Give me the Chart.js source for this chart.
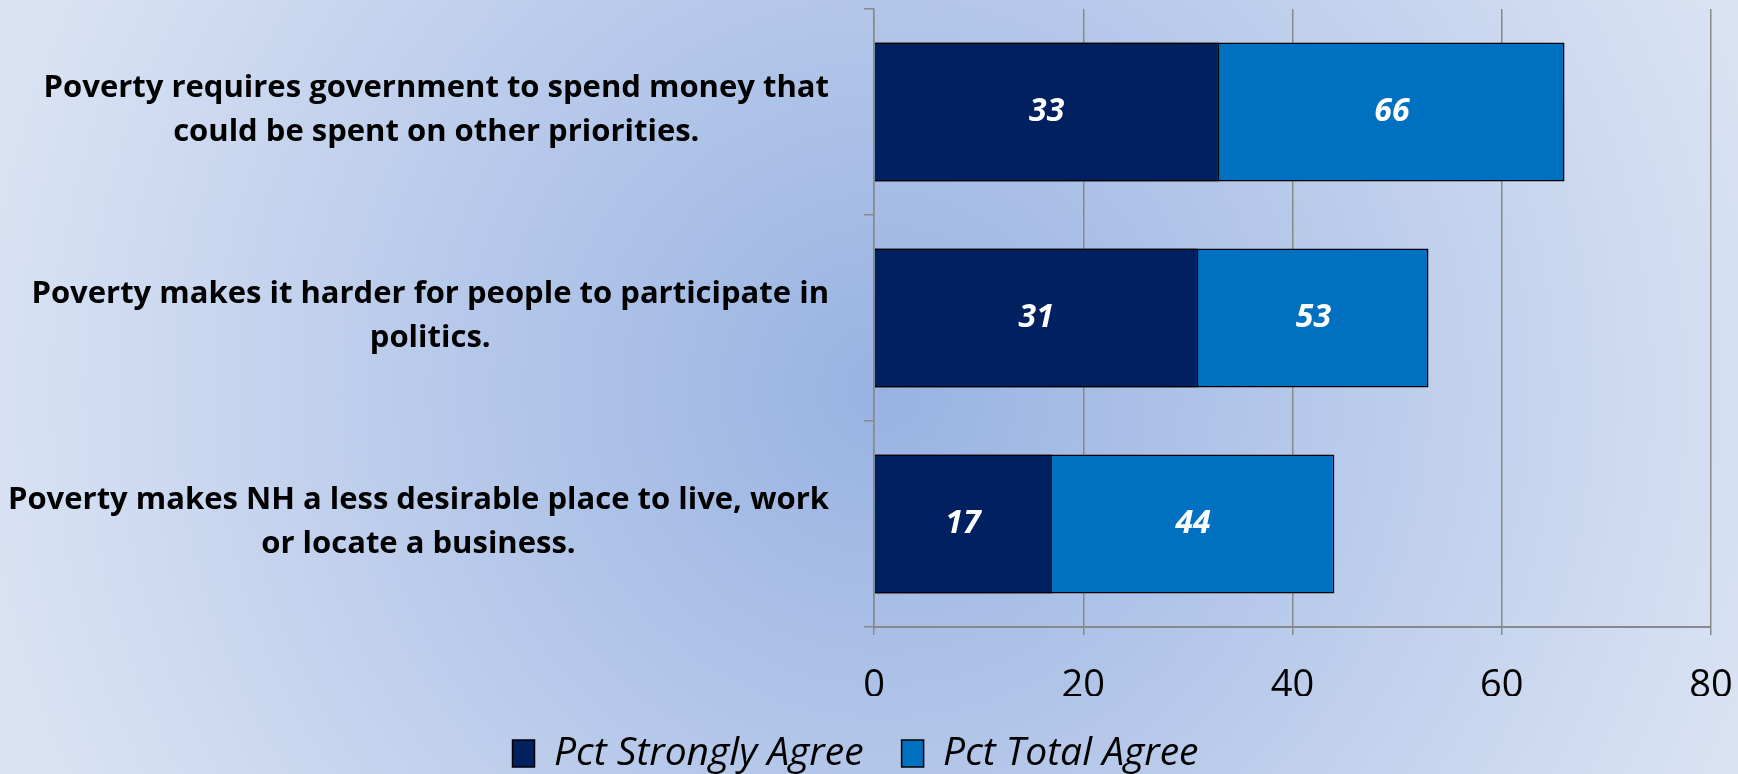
<!DOCTYPE html>
<html>
<head>
<meta charset="utf-8">
<script src="https://cdn.jsdelivr.net/npm/chart.js@4.4.1/dist/chart.umd.min.js"></script>
<style>
  html, body { margin: 0; padding: 0; overflow: hidden; background: #c9d7ef; }
  #wrap { width: 1738px; height: 774px; }
</style>
</head>
<body>
<div id="wrap"><canvas id="c" width="1738" height="774"></canvas></div>
<script>
// Survey statements (drawn as two-line labels)
const statements = [
  ['Poverty requires government to spend money that', 'could be spent on other priorities.'],
  ['Poverty makes it harder for people to participate in', 'politics.'],
  ['Poverty makes NH a less desirable place to live, work', 'or locate a business.']
];
const seriesNames = ['Pct Strongly Agree', 'Pct Total Agree'];
const stronglyAgree = [33, 31, 17];
const totalAgree = [66, 53, 44];
const xTickValues = [0, 20, 40, 60, 80];

const FONT = '"Open Sans", Lato, sans-serif';
const GRID = '#898989';

// Soft radial backdrop behind the whole chart
const backdrop = {
  id: 'backdrop',
  beforeDraw(chart) {
    const { ctx, width, height } = chart;
    const g = ctx.createRadialGradient(885, 390, 0, 885, 390, 900);
    g.addColorStop(0, '#98b2e2');
    g.addColorStop(1, '#d8e2f3');
    ctx.save();
    ctx.fillStyle = g;
    ctx.fillRect(0, 0, width, height);
    ctx.restore();
  }
};

// Statement labels: lines centred on each other, block right-aligned to the axis
const statementLabels = {
  id: 'statementLabels',
  afterDraw(chart) {
    const { ctx } = chart;
    const y = chart.scales.y;
    const right = chart.chartArea.left - 45;
    const lineH = 44;
    ctx.save();
    ctx.font = 'bold 31px ' + FONT;
    ctx.fillStyle = '#000';
    ctx.textAlign = 'center';
    ctx.textBaseline = 'middle';
    statements.forEach((lines, i) => {
      const w = Math.max(...lines.map(l => ctx.measureText(l).width));
      const cx = right - w / 2;
      const cy = y.getPixelForValue(i) - 2;
      const top = cy - (lines.length - 1) * lineH / 2;
      lines.forEach((l, k) => ctx.fillText(l, cx, top + k * lineH));
    });
    ctx.restore();
  }
};

// Value labels centred in the visible part of each bar
const valueLabels = {
  id: 'valueLabels',
  afterDatasetsDraw(chart) {
    const { ctx } = chart;
    const x = chart.scales.x, y = chart.scales.y;
    ctx.save();
    ctx.font = 'italic bold 32px ' + FONT;
    ctx.fillStyle = '#fff';
    ctx.textAlign = 'center';
    ctx.textBaseline = 'middle';
    statements.forEach((_, i) => {
      const cy = y.getPixelForValue(i);
      ctx.fillText(String(stronglyAgree[i]), x.getPixelForValue(stronglyAgree[i] / 2), cy);
      ctx.fillText(String(totalAgree[i]), x.getPixelForValue((stronglyAgree[i] + totalAgree[i]) / 2), cy);
    });
    ctx.restore();
  }
};

new Chart(document.getElementById('c'), {
  type: 'bar',
  data: {
    labels: statements,
    datasets: [
      {
        label: seriesNames[0],
        data: stronglyAgree,
        backgroundColor: '#002060',
        borderColor: '#000',
        borderWidth: 1.5,
        grouped: false,
        categoryPercentage: 1,
        barPercentage: 0.675
      },
      {
        label: seriesNames[1],
        data: totalAgree,
        backgroundColor: '#0070c0',
        borderColor: '#000',
        borderWidth: 1.5,
        grouped: false,
        categoryPercentage: 1,
        barPercentage: 0.675
      }
    ]
  },
  options: {
    indexAxis: 'y',
    responsive: false,
    animation: false,
    layout: { padding: { left: 0, right: 27, top: 9, bottom: -9 } },
    scales: {
      x: {
        min: 0,
        max: 80,
        afterBuildTicks(scale) { scale.ticks = xTickValues.map(v => ({ value: v })); },
        afterFit(scale) {
          scale.height = 69;
          scale.paddingLeft = 0;
          scale.paddingRight = 0;
        },
        grid: { color: GRID, lineWidth: 1.5, tickLength: 8, drawTicks: true },
        border: { color: GRID, width: 2 },
        ticks: { color: '#000', padding: 28, font: { family: FONT, size: 38 } }
      },
      y: {
        offset: true,
        afterFit(scale) { scale.width = 874; },
        grid: { offset: true, drawOnChartArea: false, drawTicks: true, tickLength: 10, color: GRID, lineWidth: 1.5 },
        border: { color: GRID, width: 1.5 },
        ticks: { display: false }
      }
    },
    plugins: {
      legend: {
        position: 'bottom',
        labels: {
          color: '#000',
          boxWidth: 22,
          boxHeight: 27,
          padding: 38,
          font: { family: FONT, size: 39, style: 'italic' }
        }
      },
      tooltip: { enabled: false }
    }
  },
  plugins: [backdrop, valueLabels, statementLabels]
});
</script>
</body>
</html>
